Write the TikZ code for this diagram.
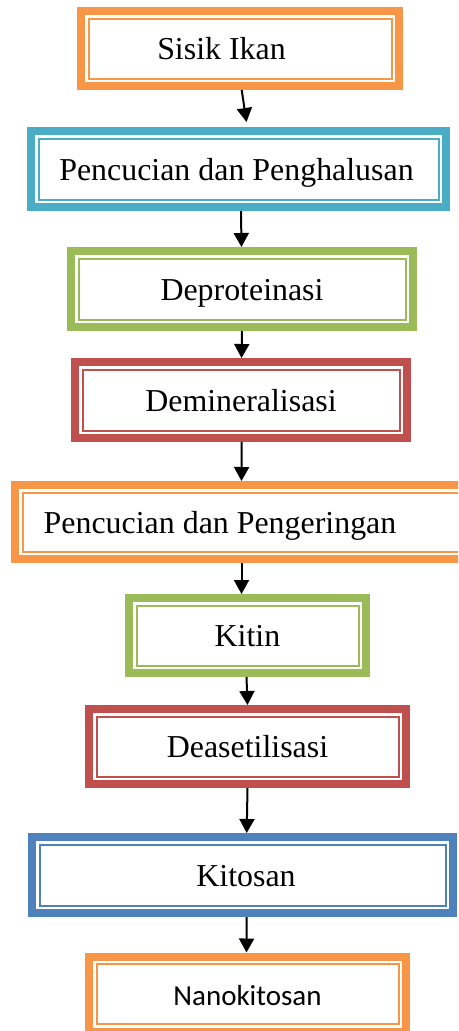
\documentclass[tikz,border=0pt]{standalone}
\usepackage{fontspec}
\setmainfont{Liberation Serif}
\newfontfamily\calibrifont{Carlito}
\usetikzlibrary{arrows.meta}
\definecolor{cOrange}{HTML}{F79646}
\definecolor{cTeal}{HTML}{4BACC6}
\definecolor{cGreen}{HTML}{9BBB59}
\definecolor{cRed}{HTML}{C0504D}
\definecolor{cBlue}{HTML}{4F81BD}
\begin{document}
\begin{tikzpicture}[x=1pt,y=-1pt,
  box/.style={draw=#1, line width=8pt, fill=white, outer sep=4pt, inner sep=0pt,
    text height=22pt, text depth=0pt, font=\fontsize{31.9}{38}\selectfont,
    path picture={\draw[#1,line width=2pt]
      ([shift={(7.5pt,-7.5pt)}]path picture bounding box.north west) rectangle
      ([shift={(-7.5pt,7.5pt)}]path picture bounding box.south east);}},
  arr/.style={line width=2pt, -{Triangle[length=14pt,width=15pt]}}]
\clip (0,0) rectangle (458,1031);
\fill[white] (0,0) rectangle (458,1031);

\node[box=cOrange, minimum width=318pt, minimum height=75pt] (b1) at (240,48.5) {Sisik Ikan\hspace*{37pt}};
\node[box=cTeal, minimum width=415pt, minimum height=76pt] (b2) at (238.5,169) {Pencucian dan Penghalusan\hspace*{4pt}};
\node[box=cGreen, minimum width=342pt, minimum height=76pt] (b3) at (242,289) {Deproteinasi};
\node[box=cRed, minimum width=332pt, minimum height=76pt] (b4) at (241,400) {Demineralisasi};
\node[box=cOrange, minimum width=453pt, minimum height=74pt] (b5) at (241.5,522) {Pencucian dan Pengeringan\hspace*{43pt}};
\node[box=cGreen, minimum width=237pt, minimum height=75pt] (b6) at (247.5,635.5) {Kitin};
\node[box=cRed, minimum width=317pt, minimum height=75pt] (b7) at (247.5,746.5) {Deasetilisasi};
\node[box=cBlue, minimum width=421pt, minimum height=76pt] (b8) at (242.5,875) {\hspace*{7pt}Kitosan};
\node[box=cOrange, minimum width=317pt, minimum height=75pt, font=\calibrifont\fontsize{29}{35}\selectfont] (b9) at (247.5,994) {Nanokitosan};

\draw[arr] ([xshift=1.7pt]b1.south) -- ([shift={(8pt,5pt)}]b2.north);
\draw[arr] ([xshift=2.5pt]b2.south) -- ([xshift=-0.5pt]b3.north);
\draw[arr] (b3.south) -- ([xshift=0.5pt]b4.north);
\draw[arr] ([xshift=0.7pt]b4.south) -- (b5.north);
\draw[arr] (b5.south) -- ([xshift=-6pt]b6.north);
\draw[arr] ([xshift=-1pt]b6.south) -- (b7.north);
\draw[arr] (b7.south) -- ([xshift=4.2pt]b8.north);
\draw[arr] ([xshift=4.2pt]b8.south) -- ([xshift=-1pt]b9.north);
\end{tikzpicture}
\end{document}
